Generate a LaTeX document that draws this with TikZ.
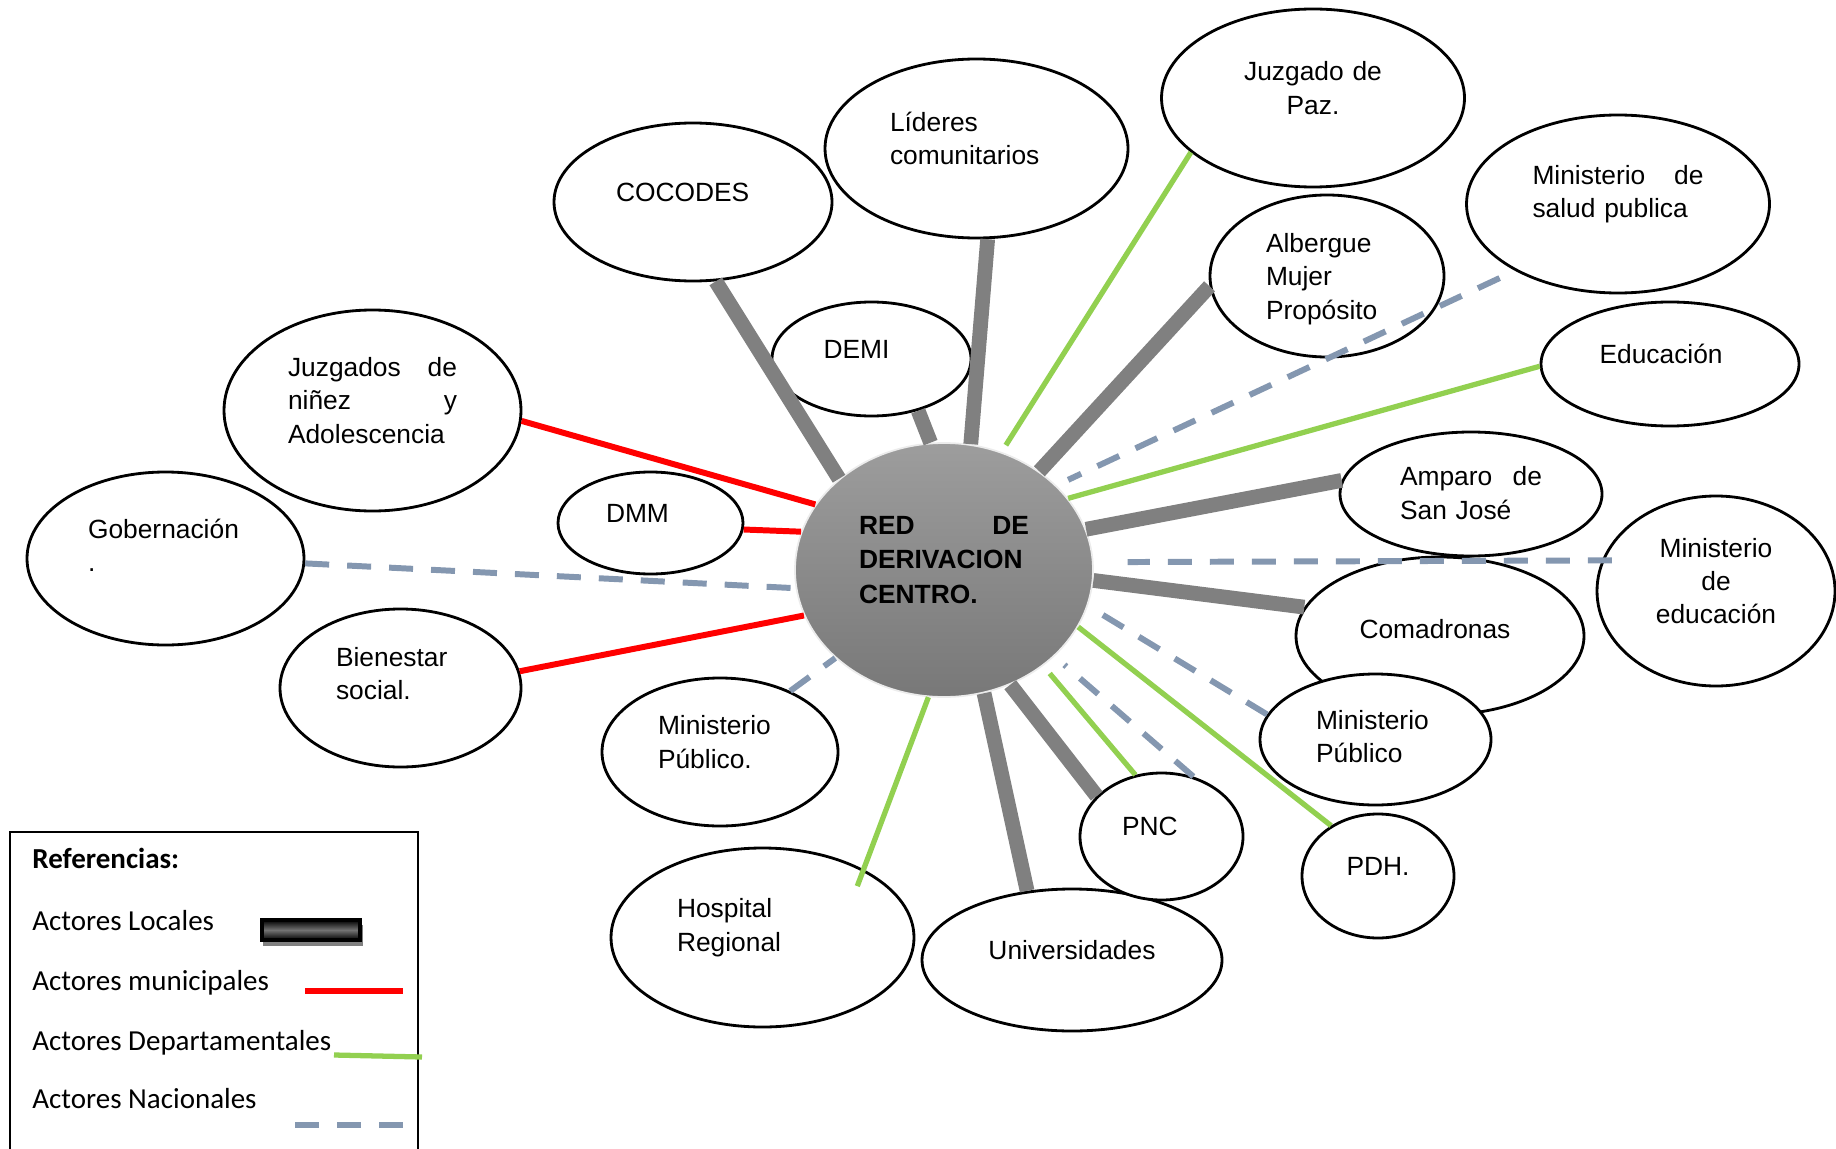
\documentclass[tikz,border=0pt]{standalone}
\usepackage{fontspec}
\setmainfont{Liberation Sans}
\newfontfamily\leyfont{Carlito}
\usepackage{tikz}
\usetikzlibrary{shapes.geometric}
\definecolor{gris}{RGB}{128,128,128}
\definecolor{rojo}{RGB}{255,0,0}
\definecolor{verde}{RGB}{146,208,80}
\definecolor{azul}{RGB}{132,151,176}
\newcommand{\drawe}{\draw[line width=0.6pt]}
\newcommand{\espacio}{0.2cm}
\newcommand{\finnodo}{\par\vspace*{\espacio}}

\begin{document}
\begin{tikzpicture}[
  actor/.style={ellipse, draw, fill=white, line width=0.8pt, inner sep=0pt, align=left,
    font=\fontsize{7.5}{9.5}\selectfont, execute at end node=\finnodo},
  centro st/.style={ellipse, draw=white!85!gray, line width=0.5pt, inner sep=0pt, align=left,
    top color={rgb,255:red,157;green,157;blue,157}, bottom color={rgb,255:red,120;green,120;blue,120},
    font=\fontsize{7.5}{9.8}\selectfont\bfseries, execute at end node=\finnodo},
  subir/.code={\def\espacio{#1}},
  local/.style={gris, line width=4.2pt},
  municipal/.style={rojo, line width=1.7pt},
  departamental/.style={verde, line width=1.5pt},
  nacional/.style={azul, line width=1.7pt, dash pattern=on 0.24cm off 0.18cm},
  leyenda/.style={inner sep=0pt, anchor=base west, font=\leyfont\fontsize{8.25}{10}\selectfont}]
\useasboundingbox (0,0) rectangle (18.36,-11.49);

% Nodo central
\node[centro st, minimum width=2.98cm, minimum height=2.54cm, text width=1.70cm] (centro) at (9.44,-5.70) {RED\hfill DE\\DERIVACION\\CENTRO.};

% Actores
\node[actor, minimum width=2.78cm, minimum height=1.58cm, text width=1.54cm] (cocodes) at (6.93,-2.02) {COCODES};
\node[actor, minimum width=3.03cm, minimum height=1.79cm, text width=1.73cm] (lideres) at (9.765,-1.485) {Líderes\\comunitarios};
\node[actor, minimum width=1.99cm, minimum height=1.14cm, text width=0.96cm] (demi) at (8.715,-3.59) {DEMI};
\node[actor, minimum width=3.03cm, minimum height=1.78cm, text width=2.0cm, align=center] (paz) at (13.13,-0.98) {Juzgado de\\Paz.};
\node[actor, minimum width=3.03cm, minimum height=1.78cm, text width=1.71cm] (salud) at (16.18,-2.04) {Ministerio\hfill de\\salud publica};
\node[actor, minimum width=2.34cm, minimum height=1.62cm, text width=1.22cm, subir=-0.06cm] (albergue) at (13.27,-2.76) {Albergue\\Mujer\\Propósito};
\node[actor, minimum width=2.58cm, minimum height=1.24cm, text width=1.41cm] (educacion) at (16.70,-3.64) {Educación};
\node[actor, minimum width=2.62cm, minimum height=1.24cm, text width=1.42cm, subir=0.02cm] (amparo) at (14.71,-4.94) {Amparo\hfill de\\San José};
\node[actor, minimum width=2.38cm, minimum height=1.90cm, text width=1.5cm, align=center] (mineduc) at (17.16,-5.91) {Ministerio\\de\\educación};
\node[actor, minimum width=2.88cm, minimum height=1.58cm, text width=1.61cm, subir=0.13cm] (comadronas) at (14.40,-6.36) {Comadronas};
\node[actor, minimum width=2.31cm, minimum height=1.31cm, text width=1.19cm, subir=0.06cm] (mpder) at (13.755,-7.395) {Ministerio\\Público};
\node[actor, minimum width=3.00cm, minimum height=1.42cm, text width=1.9cm, align=center] (univ) at (10.72,-9.60) {Universidades};
\node[actor, minimum width=1.63cm, minimum height=1.27cm, text width=0.79cm] (pnc) at (11.615,-8.365) {PNC};
\node[actor, minimum width=1.52cm, minimum height=1.24cm, text width=0.9cm, align=center] (pdh) at (13.78,-8.76) {PDH.};
\node[actor, minimum width=3.03cm, minimum height=1.79cm, text width=1.71cm] (hospital) at (7.625,-9.375) {Hospital\\Regional};
\node[actor, minimum width=2.36cm, minimum height=1.48cm, text width=1.24cm] (mpizq) at (7.20,-7.52) {Ministerio\\Público.};
\node[actor, minimum width=2.97cm, minimum height=2.01cm, text width=1.69cm] (juzgados) at (3.725,-4.105) {Juzgados\hfill de\\niñez\hfill y\\Adolescencia};
\node[actor, minimum width=1.85cm, minimum height=1.02cm, text width=0.89cm] (dmm) at (6.505,-5.23) {DMM};
\node[actor, minimum width=2.77cm, minimum height=1.73cm, text width=1.55cm, subir=0.27cm] (gobernacion) at (1.655,-5.585) {Gobernación\\.};
\node[actor, minimum width=2.41cm, minimum height=1.58cm, text width=1.29cm, subir=0.29cm] (bienestar) at (4.005,-6.88) {Bienestar\\social.};

% Actores locales
\draw[local] (cocodes.286) -- (centro.139.5);
\draw[local] (lideres.277) -- (centro.78);
\draw[local] (demi.312) -- (centro.96);
\draw[local] (albergue.185) -- (centro.46);
\draw[local] (amparo.174) -- (centro.16);
\draw[local] (comadronas.168.5) -- (centro.356);
\draw[local] (pnc.148.5) -- (centro.300);
\draw[local] (univ.123) -- (centro.288);

% Actores municipales
\draw[municipal] (juzgados.356) -- (centro.153);
\draw[municipal] (dmm.356) -- (centro.165);
\draw[municipal] (bienestar.8.5) -- (centro.198);

% Actores departamentales
\draw[departamental, shorten >=0.08cm] (paz.204) -- (centro.64);
\draw[departamental] (educacion.181) -- (centro.30.5);
\draw[departamental] (pdh.133) -- (centro.337);
\draw[departamental, shorten >=0.1cm] (pnc.113) -- (centro.316.4);
\draw[departamental, shorten <=-0.18cm] (hospital.34) -- (centro.263);

% Actores nacionales
\draw[nacional, shorten <=0.17cm, shorten >=0.13cm] (salud.213) -- (centro.37.5);
\draw[nacional, shorten <=-0.1cm, shorten >=0.34cm] (mineduc.165.6) -- (centro.3.1);
\draw[nacional] (mpder.167.6) -- (centro.346.4);
\draw[nacional, shorten >=0.13cm] (pnc.62.4) -- (centro.322.5);
\draw[nacional] (mpizq.41.2) -- (centro.219.8);
\draw[nacional] (gobernacion.358.6) -- (centro.187);

% Referencias
\drawe (0.10,-11.49) -- (0.10,-8.32) -- (4.18,-8.32) -- (4.18,-11.49);
\node[leyenda, font=\leyfont\fontsize{8.25}{10}\selectfont\bfseries] (ref) at (0.317,-8.68) {Referencias:};
\node[leyenda] (leyloc) at (0.317,-9.30) {Actores Locales};
\node[leyenda] (leymun) at (0.317,-9.90) {Actores municipales};
\node[leyenda] (leydep) at (0.317,-10.50) {Actores Departamentales};
\node[leyenda] (leynac) at (0.317,-11.08) {Actores Nacionales};

\fill[gris] (2.63,-9.25) rectangle (3.63,-9.46);
\draw[line width=1.2pt, top color=black, bottom color=black, middle color=black!55] (2.62,-9.20) rectangle (3.60,-9.40);
\draw[municipal] (3.05,-9.907) -- (4.03,-9.907);
\draw[departamental] (3.34,-10.55) -- (4.22,-10.57);
\draw[nacional] (2.95,-11.25) -- (4.03,-11.25);
\end{tikzpicture}
\end{document}
